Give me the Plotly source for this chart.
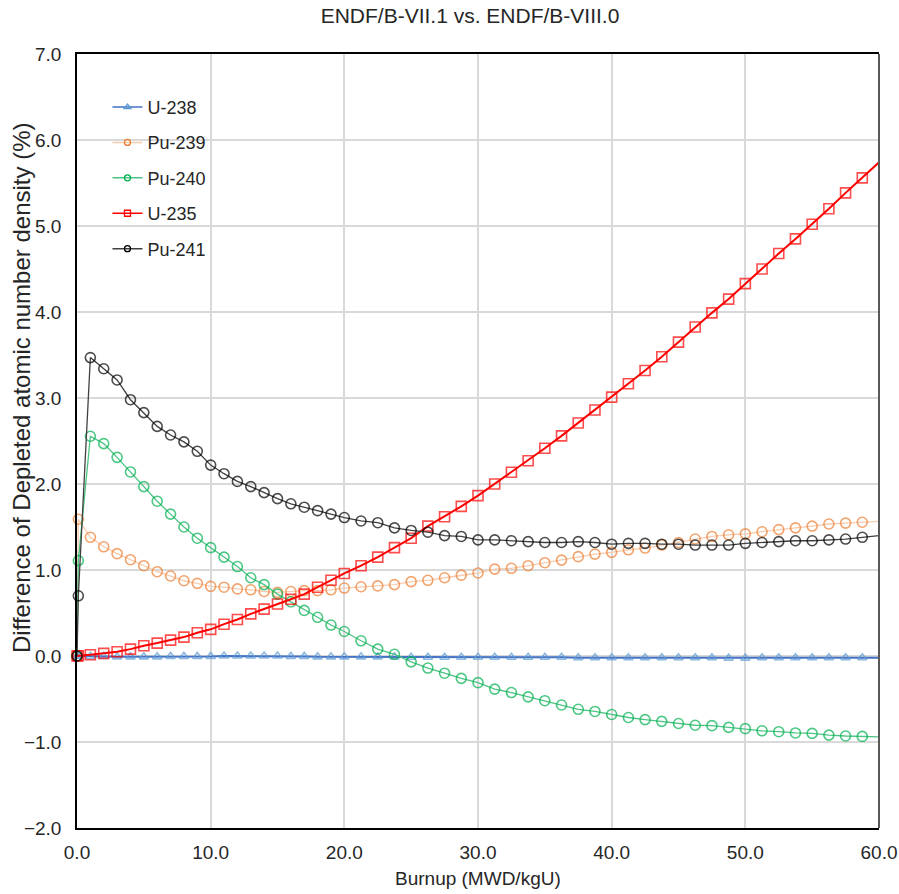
import plotly.graph_objects as go

# Burnup steps (MWD/kgU)
burnup = [0, 0.1, 1, 2, 3, 4, 5, 6, 7, 8, 9, 10, 11, 12, 13, 14, 15, 16, 17, 18, 19, 20,
          21.25, 22.5, 23.75, 25, 26.25, 27.5, 28.75, 30, 31.25, 32.5, 33.75, 35,
          36.25, 37.5, 38.75, 40, 41.25, 42.5, 43.75, 45, 46.25, 47.5, 48.75, 50,
          51.25, 52.5, 53.75, 55, 56.25, 57.5, 58.75, 60]

# Difference of depleted atomic number density (%)
u238 = [0.0, 0.0, -0.005, -0.005, -0.01, -0.01, -0.01, -0.01, -0.005, -0.005, -0.005, -0.005,
        0.0, 0.0, 0.0, 0.0, 0.0, -0.005, -0.005, -0.01, -0.01, -0.01,
        -0.01, -0.01, -0.01, -0.015, -0.015, -0.015, -0.015, -0.015, -0.015, -0.015, -0.015, -0.015,
        -0.015, -0.02, -0.02, -0.02, -0.02, -0.02, -0.02, -0.02, -0.02, -0.02, -0.025, -0.025,
        -0.02, -0.02, -0.02, -0.02, -0.02, -0.02, -0.02, -0.02]
pu239 = [0.0, 1.59, 1.38, 1.27, 1.19, 1.12, 1.05, 0.98, 0.93, 0.875, 0.845, 0.81, 0.80, 0.78,
         0.77, 0.75, 0.74, 0.75, 0.76, 0.76, 0.77, 0.79,
         0.805, 0.815, 0.83, 0.865, 0.88, 0.91, 0.94, 0.965, 1.01, 1.02, 1.05, 1.085,
         1.115, 1.155, 1.185, 1.205, 1.235, 1.255, 1.29, 1.32, 1.36, 1.39, 1.41, 1.42,
         1.445, 1.47, 1.49, 1.51, 1.535, 1.545, 1.555, 1.565]
pu240 = [0.0, 1.11, 2.555, 2.47, 2.31, 2.14, 1.97, 1.80, 1.65, 1.50, 1.37, 1.26, 1.15, 1.04,
         0.91, 0.83, 0.72, 0.63, 0.53, 0.45, 0.36, 0.285,
         0.177, 0.08, 0.02, -0.068, -0.14, -0.20, -0.26, -0.31, -0.385, -0.425, -0.475, -0.52,
         -0.57, -0.62, -0.645, -0.68, -0.715, -0.74, -0.76, -0.785, -0.805, -0.81, -0.83, -0.845,
         -0.87, -0.88, -0.895, -0.90, -0.92, -0.93, -0.935, -0.94]
u235 = [0.0, 0.003, 0.014, 0.03, 0.05, 0.08, 0.12, 0.15, 0.185, 0.22, 0.27, 0.31, 0.37, 0.425,
        0.49, 0.545, 0.605, 0.66, 0.72, 0.80, 0.88, 0.96,
        1.05, 1.15, 1.26, 1.37, 1.51, 1.62, 1.74, 1.865, 2.00, 2.136, 2.27, 2.415,
        2.56, 2.71, 2.86, 3.01, 3.165, 3.32, 3.48, 3.65, 3.825, 3.99, 4.15, 4.33,
        4.50, 4.68, 4.85, 5.02, 5.20, 5.385, 5.56, 5.74]
pu241 = [0.0, 0.70, 3.47, 3.34, 3.21, 2.98, 2.83, 2.67, 2.57, 2.49, 2.38, 2.22, 2.12, 2.03,
         1.97, 1.90, 1.83, 1.77, 1.73, 1.69, 1.65, 1.61,
         1.57, 1.55, 1.49, 1.46, 1.44, 1.40, 1.39, 1.35, 1.35, 1.34, 1.33, 1.32,
         1.32, 1.33, 1.32, 1.30, 1.31, 1.31, 1.30, 1.30, 1.29, 1.29, 1.29, 1.31,
         1.32, 1.33, 1.34, 1.34, 1.35, 1.36, 1.38, 1.40]

FONT = "Liberation Sans Narrow, Arial Narrow, Liberation Sans, Arial, sans-serif"
TXT = "#262626"

series = [
    # name, values, line colour, line width, marker symbol, marker colour, marker size
    ("U-238", u238, "#4472C4", 2.0, "triangle-up-open", "#5B9BD5", 8),
    ("Pu-239", pu239, "#F8CBAD", 1.3, "circle-open", "#ED7D31", 10),
    ("Pu-240", pu240, "#4CC483", 1.3, "circle-open", "#00B050", 10),
    ("U-235", u235, "#FF0000", 2.0, "square-open", "#FF0000", 10),
    ("Pu-241", pu241, "#404040", 1.3, "circle-open", "#000000", 10),
]

fig = go.Figure()
for name, vals, lcol, lw, sym, mcol, msz in series:
    # the final point at the axis edge carries no marker
    sizes = [msz] * (len(burnup) - 1) + [0]
    fig.add_trace(go.Scatter(
        x=burnup, y=vals, mode="lines+markers", name=name, showlegend=False,
        line=dict(color=lcol, width=lw),
        marker=dict(symbol=sym, size=sizes, color=mcol, line=dict(color=mcol, width=1.6)),
        cliponaxis=False,
    ))
    # legend entry with a smaller marker
    fig.add_trace(go.Scatter(
        x=[None], y=[None], mode="lines+markers", name=name, legendgroup=name,
        line=dict(color=lcol, width=1.5),
        marker=dict(symbol=sym, size=6, color=mcol, line=dict(color=mcol, width=1.3)),
    ))

fig.update_layout(
    width=899, height=894,
    margin=dict(l=77, r=20, t=54, b=66),
    paper_bgcolor="white", plot_bgcolor="white",
    font=dict(family=FONT, size=19, color=TXT),
    title=dict(text="ENDF/B-VII.1 vs. ENDF/B-VIII.0", x=470 / 899, xanchor="center",
               y=1 - 16 / 894, yanchor="middle", font=dict(family=FONT, size=21, color=TXT)),
    showlegend=True,
    legend=dict(x=0.038, y=0.955, xanchor="left", yanchor="top", bgcolor="rgba(0,0,0,0)",
                font=dict(family=FONT, size=18, color=TXT), tracegroupgap=9,
                itemwidth=30),
    xaxis=dict(range=[0, 60], tickvals=[0, 10, 20, 30, 40, 50, 60], tickformat=".1f",
               showgrid=True, gridcolor="#D9D9D9", gridwidth=1.5, zeroline=False,
               showline=True, linecolor="#000000", linewidth=2, mirror=True,
               ticks="", ticklabelstandoff=6, automargin=False,
               tickfont=dict(family=FONT, size=19, color=TXT)),
    yaxis=dict(range=[-2, 7], tickvals=[-2, -1, 0, 1, 2, 3, 4, 5, 6, 7], tickformat=".1f",
               showgrid=True, gridcolor="#D9D9D9", gridwidth=1.5, zeroline=False,
               showline=True, linecolor="#000000", linewidth=1.5,
               ticks="", ticklabelstandoff=10, automargin=False,
               tickfont=dict(family=FONT, size=19, color=TXT)),
    annotations=[
        dict(text="Difference of Depleted atomic number density (%)", textangle=-90,
             xref="paper", yref="paper", x=(21 - 77) / 802, y=(828 - 388) / 774,
             xanchor="center", yanchor="middle", showarrow=False,
             font=dict(family=FONT, size=24, color=TXT)),
        dict(text="Burnup (MWD/kgU)", xref="paper", yref="paper", x=0.5, y=(828 - 878) / 774,
             xanchor="center", yanchor="middle", showarrow=False,
             font=dict(family=FONT, size=19, color=TXT)),
    ],
    shapes=[dict(type="line", xref="paper", yref="paper", x0=1, x1=1, y0=0, y1=1,
                 line=dict(color="#595959", width=2))],
)

fig.write_html("out.html")
